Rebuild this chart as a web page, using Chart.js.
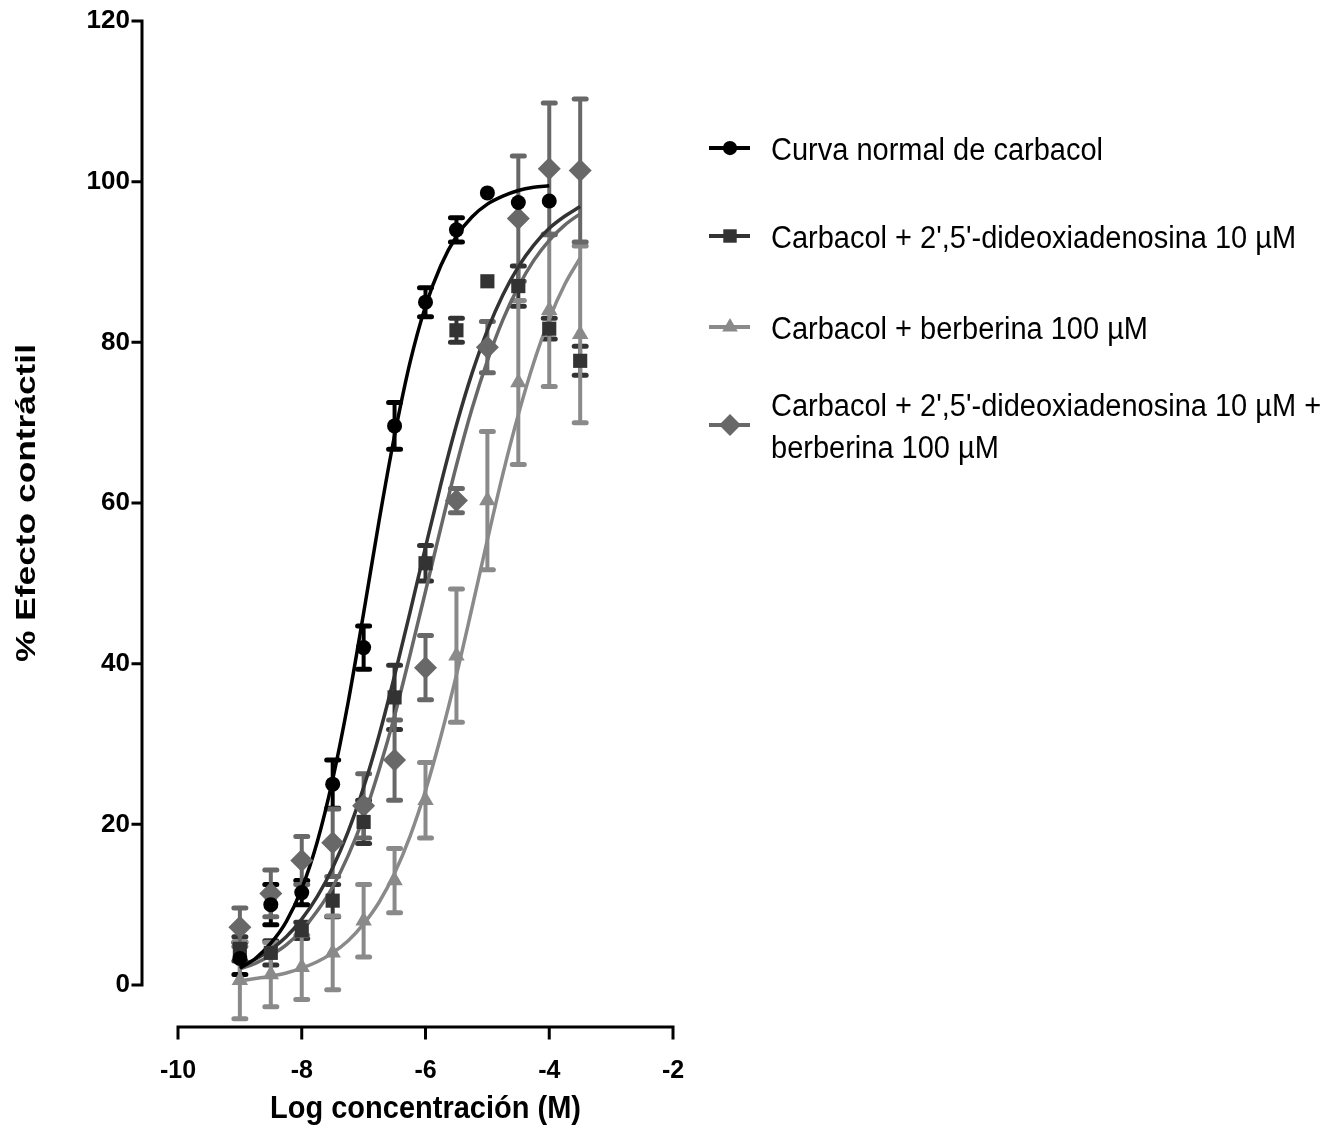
<!DOCTYPE html>
<html>
<head>
<meta charset="utf-8">
<title>Efecto contráctil del carbacol</title>
<script src="https://cdn.jsdelivr.net/npm/chart.js@4.4.1/dist/chart.umd.min.js"></script>
<style>
  html, body { margin: 0; padding: 0; background: #fff; }
  canvas { display: block; }
</style>
</head>
<body>
<canvas id="chart" width="1335" height="1128"></canvas>
<script>
// log [carbacol] (M) of every measured point
var logConc = [-9, -8.5, -8, -7.5, -7, -6.5, -6, -5.5, -5, -4.5, -4, -3.5];

// mean +/- SEM
var normalMean = [3.3, 10, 11.5, 25, 42, 69.6, 85, 94, 98.6, 97.4, 97.6];
var normalSem  = [2, 2.5, 1.5, 3, 2.7, 2.9, 1.8, 1.5, 0, 0, 0];
var ddaMean    = [4.5, 4, 6.8, 10.5, 20.3, 35.8, 52.5, 81.5, 87.6, 87, 81.7, 77.7];
var ddaSem     = [1.5, 1.5, 1, 2, 2.7, 4, 2.2, 1.5, 0, 2.5, 1.3, 1.8];
var berbMean   = [0.6, 1.3, 2.2, 4, 8, 13, 23, 41, 60.3, 75, 84, 81];
var berbSem    = [4.8, 4, 4, 4.6, 4.5, 4, 4.7, 8.3, 8.6, 10.2, 9.5, 11];
var comboMean  = [7.2, 11.4, 15.5, 17.7, 22.3, 28, 39.5, 60.3, 79.4, 95.4, 101.6, 101.4];
var comboSem   = [2.4, 2.9, 3, 4.2, 4, 5, 4, 1.5, 3.2, 7.8, 8.2, 8.9];

// fitted curves
var curveX = [-9, -8.75, -8.5, -8.25, -8, -7.75, -7.5, -7.25, -7, -6.75, -6.5, -6.25,
              -6, -5.75, -5.5, -5.25, -5, -4.75, -4.5, -4.25, -4, -3.75, -3.5];
var normalFit = [2.1, 3.3, 5.2, 7.9, 12.0, 17.8, 25.6, 35.2, 46.3, 57.8, 68.4, 77.5,
                 84.5, 89.6, 93.2, 95.6, 97.2, 98.2, 98.9, 99.3, 99.5];
var ddaFit    = [2.4, 3.2, 4.4, 6.0, 8.2, 11.0, 14.6, 19.1, 24.6, 31.1, 38.5, 46.4,
                 54.5, 62.4, 69.7, 76.1, 81.5, 85.9, 89.4, 92.1, 94.2, 95.7, 96.9];
var berbFit   = [0.5, 0.8, 1.1, 1.5, 2.1, 2.9, 4.0, 5.5, 7.6, 10.3, 13.9, 18.5,
                 24.2, 31.0, 38.6, 46.9, 55.4, 63.6, 71.0, 77.5, 82.9, 87.2, 90.5];
var comboFit  = [2.0, 2.7, 3.7, 5.0, 6.8, 9.2, 12.2, 16.1, 20.9, 26.8, 33.5, 41.1,
                 49.0, 57.0, 64.7, 71.7, 77.7, 82.8, 86.9, 90.2, 92.7, 94.6, 96.0];

var seriesNames = [
  "Curva normal de carbacol",
  "Carbacol + 2',5'-dideoxiadenosina 10 µM",
  "Carbacol + berberina 100 µM",
  "Carbacol + 2',5'-dideoxiadenosina 10 µM +\nberberina 100 µM"
];
var xTicks = [-10, -8, -6, -4, -2];
var yTicks = [0, 20, 40, 60, 80, 100, 120];
var xTitle = "Log concentración (M)";
var yTitle = "% Efecto contráctil";

var colors  = ["#000000", "#333333", "#8a8a8a", "#686868"];
var markers = ["circle", "rect", "triangle", "rectRot"];
var radii   = [7.5, 10, 9.5, 11.5];

var FONT = "'Liberation Sans', Arial, sans-serif";

function toPoints(xs, ys) {
  var pts = [];
  for (var i = 0; i < ys.length; i++) pts.push({x: xs[i], y: ys[i]});
  return pts;
}

var means = [normalMean, ddaMean, berbMean, comboMean];
var sems  = [normalSem, ddaSem, berbSem, comboSem];
var fits  = [normalFit, ddaFit, berbFit, comboFit];

var datasets = [];
for (var s = 0; s < 4; s++) {
  datasets.push({
    label: seriesNames[s].replace("\n", " "),
    data: toPoints(logConc, means[s]),
    errors: sems[s],
    showLine: false,
    pointStyle: markers[s],
    pointRadius: radii[s],
    pointBorderWidth: 0,
    backgroundColor: colors[s],
    borderColor: colors[s],
    clip: false
  });
}
for (var s = 0; s < 4; s++) {
  datasets.push({
    label: "fit " + s,
    data: toPoints(curveX, fits[s]),
    showLine: true,
    pointRadius: 0,
    borderColor: colors[s],
    borderWidth: 3.5,
    cubicInterpolationMode: "monotone",
    fill: false
  });
}

// SEM bars, drawn under the markers
var errorBars = {
  id: "errorBars",
  beforeDatasetsDraw: function(chart) {
    var ctx = chart.ctx, ys = chart.scales.y;
    ctx.save();
    chart.data.datasets.forEach(function(ds, di) {
      if (!ds.errors) return;
      var meta = chart.getDatasetMeta(di);
      ctx.strokeStyle = ds.borderColor;
      meta.data.forEach(function(pt, i) {
        var e = ds.errors[i];
        if (!e) return;
        var v = ds.data[i].y;
        var top = ys.getPixelForValue(v + e), bot = ys.getPixelForValue(v - e);
        ctx.lineCap = "butt";
        ctx.lineWidth = 4;
        ctx.beginPath();
        ctx.moveTo(pt.x, top); ctx.lineTo(pt.x, bot);
        ctx.stroke();
        ctx.lineCap = "round";
        ctx.lineWidth = 5;
        ctx.beginPath();
        ctx.moveTo(pt.x - 6, top); ctx.lineTo(pt.x + 6, top);
        ctx.moveTo(pt.x - 6, bot); ctx.lineTo(pt.x + 6, bot);
        ctx.stroke();
      });
    });
    ctx.restore();
  }
};

// Prism style offset axes, titles and legend
var prismDecor = {
  id: "prismDecor",
  afterDraw: function(chart) {
    var ctx = chart.ctx, xs = chart.scales.x, ys = chart.scales.y;
    ctx.save();
    ctx.strokeStyle = "#000";
    ctx.lineWidth = 3;
    ctx.lineCap = "square";

    // y axis
    var yAxisX = 142;
    ctx.beginPath();
    ctx.moveTo(yAxisX, ys.getPixelForValue(yTicks[0]));
    ctx.lineTo(yAxisX, ys.getPixelForValue(yTicks[yTicks.length - 1]));
    yTicks.forEach(function(v) {
      var py = ys.getPixelForValue(v);
      ctx.moveTo(yAxisX - 9, py); ctx.lineTo(yAxisX, py);
    });
    ctx.stroke();

    // x axis
    var xAxisY = 1027;
    ctx.beginPath();
    ctx.moveTo(xs.getPixelForValue(xTicks[0]), xAxisY);
    ctx.lineTo(xs.getPixelForValue(xTicks[xTicks.length - 1]), xAxisY);
    xTicks.forEach(function(v) {
      var px = xs.getPixelForValue(v);
      ctx.moveTo(px, xAxisY); ctx.lineTo(px, xAxisY + 11);
    });
    ctx.stroke();

    ctx.fillStyle = "#000";
    ctx.textBaseline = "alphabetic";

    // x title
    ctx.save();
    ctx.font = "bold 29px " + FONT;
    ctx.textAlign = "center";
    ctx.translate((xs.left + xs.right) / 2, 1118);
    ctx.scale(1, 1.1);
    ctx.fillText(xTitle, 0, 0);
    ctx.restore();

    // y title
    ctx.save();
    ctx.font = "bold 28px " + FONT;
    ctx.textAlign = "center";
    var w = ctx.measureText(yTitle).width;
    ctx.translate(35, (ys.top + ys.bottom) / 2);
    ctx.rotate(-Math.PI / 2);
    ctx.scale(318 / w, 1);
    ctx.fillText(yTitle, 0, 0);
    ctx.restore();

    // legend
    var rowY = [148, 236, 327, 425];
    ctx.font = "29px " + FONT;
    ctx.textAlign = "left";
    for (var s = 0; s < 4; s++) {
      var ds = chart.data.datasets[s];
      var cy = rowY[s];
      ctx.strokeStyle = ds.borderColor;
      ctx.lineWidth = 4;
      ctx.lineCap = "butt";
      ctx.beginPath();
      ctx.moveTo(709, cy); ctx.lineTo(750, cy);
      ctx.stroke();
      ctx.fillStyle = ds.backgroundColor;
      Chart.helpers.drawPoint(ctx, {
        pointStyle: ds.pointStyle, radius: ds.pointRadius * 0.95, rotation: 0, borderWidth: 0
      }, 730, cy);
      ctx.fillStyle = "#000";
      var lines = seriesNames[s].split("\n");
      var first = cy + 11.5 - (lines.length - 1) * 21;
      lines.forEach(function(t, k) {
        ctx.save();
        ctx.translate(771, first + k * 42);
        ctx.scale(1, 1.1);
        ctx.fillText(t, 0, 0);
        ctx.restore();
      });
    }
    ctx.restore();
  }
};

new Chart(document.getElementById("chart"), {
  type: "scatter",
  data: { datasets: datasets },
  options: {
    responsive: false,
    animation: false,
    layout: { padding: { top: 21, right: 662, bottom: 0, left: 0 } },
    plugins: { legend: { display: false }, tooltip: { enabled: false } },
    scales: {
      x: {
        type: "linear", min: -10, max: -2,
        grid: { display: false, drawTicks: false },
        border: { display: false },
        ticks: { padding: 71, color: "#000", font: { family: FONT, size: 25, weight: "bold" } },
        afterBuildTicks: function(sc) { sc.ticks = xTicks.map(function(v) { return {value: v}; }); },
        afterFit: function(sc) { sc.height = 143; sc.paddingLeft = 0; sc.paddingRight = 0; }
      },
      y: {
        type: "linear", min: 0, max: 120,
        grid: { display: false, drawTicks: false },
        border: { display: false },
        ticks: { padding: 48, color: "#000", font: { family: FONT, size: 26, weight: "bold" } },
        afterBuildTicks: function(sc) { sc.ticks = yTicks.map(function(v) { return {value: v}; }); },
        afterFit: function(sc) { sc.width = 178; sc.paddingTop = 0; sc.paddingBottom = 0; }
      }
    }
  },
  plugins: [errorBars, prismDecor]
});
</script>
</body>
</html>
